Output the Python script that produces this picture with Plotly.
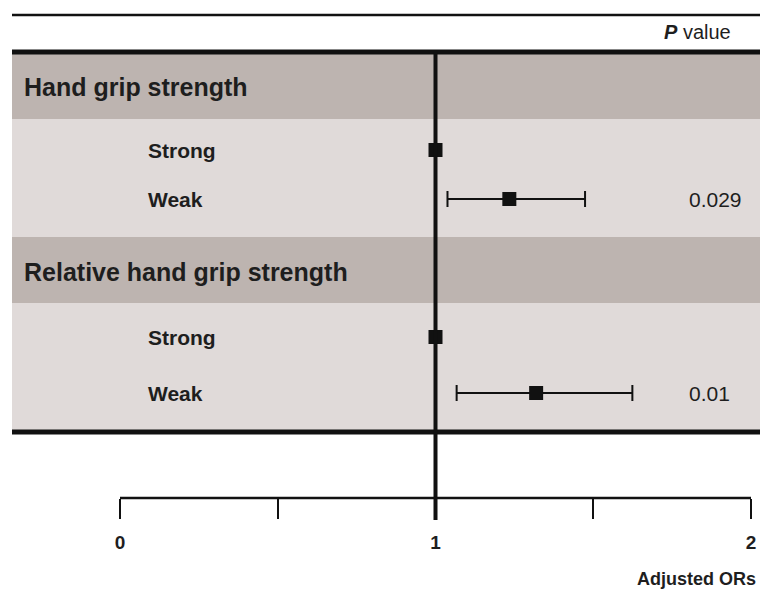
import plotly.graph_objects as go

# ---------------- data ----------------
groups = ["Hand grip strength", "Relative hand grip strength"]
levels = ["Strong", "Weak"]
odds_ratio = [[1.0, 1.234], [1.0, 1.319]]
ci_low = [[None, 1.038], [None, 1.067]]
ci_high = [[None, 1.474], [None, 1.624]]
p_values = [["", "0.029"], ["", "0.01"]]
tick_vals = [0, 0.5, 1, 1.5, 2]
tick_text = ["0", "", "1", "", "2"]

# ---------------- layout constants (pixel positions) ----------------
W, H = 760, 590
X0_PX, X2_PX = 120, 751          # pixel of OR=0 and OR=2
ppu = (X2_PX - X0_PX) / 2.0
xr = [-X0_PX / ppu, (W - X0_PX) / ppu]
header_y = [87, 272]
level_y = [[150, 199], [337, 393]]
dark_bands = [(54, 119), (237, 303)]
light_bands = [(119, 237), (303, 430)]
AXIS_Y = 498

FONT = "Liberation Sans, Arial, sans-serif"
TXT = "#1e1e1e"
DARK = "#bdb4b0"
LIGHT = "#e0dad9"

fig = go.Figure()

shapes = []
for (a, b) in dark_bands:
    shapes.append(dict(type="rect", xref="paper", yref="y", x0=12 / W, x1=1, y0=a, y1=b,
                       fillcolor=DARK, line=dict(width=0), layer="below"))
for (a, b) in light_bands:
    shapes.append(dict(type="rect", xref="paper", yref="y", x0=12 / W, x1=1, y0=a, y1=b,
                       fillcolor=LIGHT, line=dict(width=0), layer="below"))
# horizontal rules
shapes.append(dict(type="line", xref="paper", yref="y", x0=12 / W, x1=1, y0=15, y1=15,
                   line=dict(color="#111", width=2.5)))
shapes.append(dict(type="line", xref="paper", yref="y", x0=12 / W, x1=1, y0=52, y1=52,
                   line=dict(color="#111", width=5)))
shapes.append(dict(type="line", xref="paper", yref="y", x0=12 / W, x1=1, y0=432, y1=432,
                   line=dict(color="#111", width=5)))
# reference line at OR = 1
shapes.append(dict(type="line", xref="x", yref="y", x0=1, x1=1, y0=52, y1=520,
                   line=dict(color="#111", width=4)))
# axis baseline from 0 to 2
shapes.append(dict(type="line", xref="x", yref="y", x0=tick_vals[0], x1=tick_vals[-1],
                   y0=AXIS_Y, y1=AXIS_Y, line=dict(color="#111", width=2.5)))
fig.update_layout(shapes=shapes)

annotations = []
for gi, g in enumerate(groups):
    annotations.append(dict(xref="paper", yref="y", x=22 / W, y=header_y[gi], text=g,
                            showarrow=False, xanchor="left", yanchor="middle",
                            font=dict(family=FONT, size=25, color=TXT, weight="bold")))
    for li, lv in enumerate(levels):
        annotations.append(dict(xref="paper", yref="y", x=146 / W, y=level_y[gi][li], text=lv,
                                showarrow=False, xanchor="left", yanchor="middle",
                                font=dict(family=FONT, size=21, color=TXT, weight="bold")))
        if p_values[gi][li]:
            annotations.append(dict(xref="paper", yref="y", x=687 / W, y=level_y[gi][li],
                                    text=p_values[gi][li], showarrow=False,
                                    xanchor="left", yanchor="middle",
                                    font=dict(family=FONT, size=21, color=TXT)))
annotations.append(dict(xref="paper", yref="y", x=733 / W, y=32,
                        text="<b><i>P</i></b> value", showarrow=False,
                        xanchor="right", yanchor="middle",
                        font=dict(family=FONT, size=20, color=TXT)))
annotations.append(dict(xref="paper", yref="y", x=758 / W, y=579,
                        text="Adjusted ORs", showarrow=False,
                        xanchor="right", yanchor="middle",
                        font=dict(family=FONT, size=18, color=TXT, weight="bold")))
fig.update_layout(annotations=annotations)

# points + CI
for gi in range(len(groups)):
    xs, ys, ep, em = [], [], [], []
    for li in range(len(levels)):
        o = odds_ratio[gi][li]
        xs.append(o)
        ys.append(level_y[gi][li])
        if ci_low[gi][li] is None:
            ep.append(0)
            em.append(0)
        else:
            ep.append(ci_high[gi][li] - o)
            em.append(o - ci_low[gi][li])
    fig.add_trace(go.Scatter(
        x=xs, y=ys, mode="markers",
        marker=dict(symbol="square", size=14, color="#111"),
        error_x=dict(type="data", symmetric=False, array=ep, arrayminus=em,
                     color="#111", thickness=2, width=8, visible=True),
        showlegend=False, hoverinfo="x"))

fig.update_layout(
    width=W, height=H,
    margin=dict(l=0, r=0, t=0, b=0),
    paper_bgcolor="white", plot_bgcolor="rgba(0,0,0,0)",
    xaxis=dict(range=xr, anchor="free", position=(H - AXIS_Y) / H,
               showgrid=False, zeroline=False, showline=False,
               tickmode="array", tickvals=tick_vals, ticktext=tick_text,
               ticks="outside", ticklen=20, tickwidth=1.6, tickcolor="#111",
               ticklabelstandoff=7,
               tickfont=dict(family=FONT, size=19, color=TXT, weight="bold")),
    yaxis=dict(range=[H, 0], domain=[0, 1], visible=False, showgrid=False, zeroline=False),
)

fig.write_html("out.html", config={"displayModeBar": False},
               post_script="document.body.style.margin='0';document.body.style.overflow='hidden';")
